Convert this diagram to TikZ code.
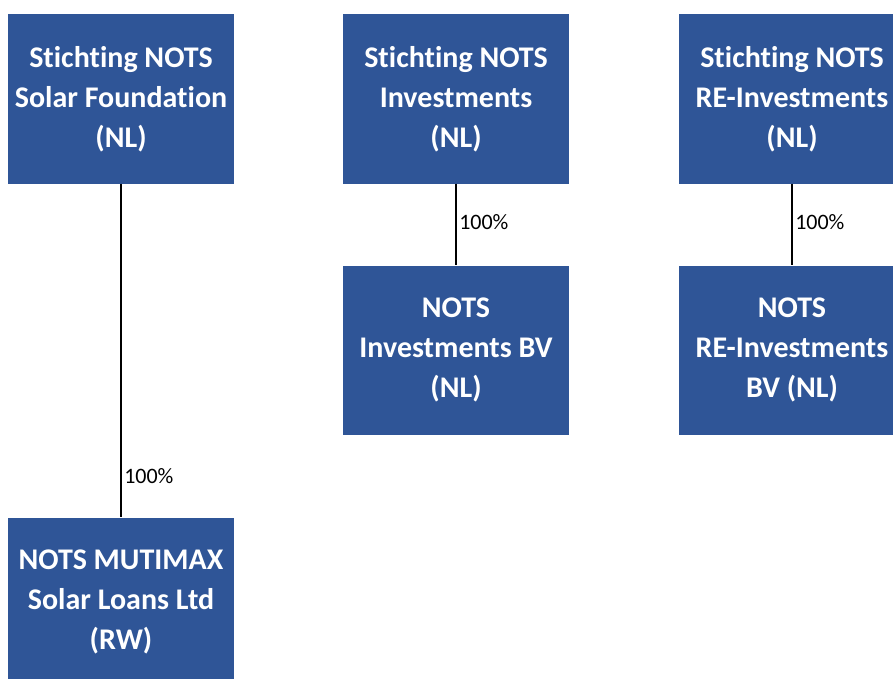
\documentclass[tikz,border=0pt]{standalone}
\usepackage{fontspec}
\setmainfont{Carlito}[Ligatures=NoCommon]
\definecolor{notsblue}{HTML}{2F5597}
\tikzset{
  entity/.style={fill=notsblue, text=white, align=center, inner sep=0pt,
    minimum width=226pt, minimum height=169pt,
    font=\bfseries\fontsize{30}{40}\selectfont},
  holding/.style={line width=2.5pt, black},
  share/.style={font=\fontsize{22}{26}\selectfont, inner sep=2pt}
}
\begin{document}
\begin{tikzpicture}[x=1pt,y=-1pt]
		%%%%% FRAME %%%%%
		\clip (0, 0) rectangle (893, 679);
		
		%%%%% ENTITIES %%%%%
		\node[entity] (solar) at (121, 99) {Stichting NOTS\\Solar Foundation\\(NL)};
		\node[entity] (inv) at (456, 99) {Stichting NOTS\\Investments\\(NL)};
		\node[entity] (reinv) at (792, 99) {Stichting NOTS\\RE-Investments\\(NL)};
		
		\node[entity] (invbv) at (456, 350) {NOTS\\Investments BV\\(NL)};
		\node[entity] (reinvbv) at (792, 350) {NOTS\\RE-Investments\\BV (NL)};
		
		\node[entity] (mutimax) at (121, 602) {NOTS MUTIMAX\\Solar Loans Ltd\\(RW)};
		
		%%%%% OWNERSHIP %%%%%
		\draw[holding] (solar) -- (mutimax) node[share, pos=0.875, right] {100\%};
		\draw[holding] (inv) -- (invbv) node[share, pos=0.47, right] {100\%};
		\draw[holding] (reinv) -- (reinvbv) node[share, pos=0.47, right] {100\%};
		
	\end{tikzpicture}
\end{document}
